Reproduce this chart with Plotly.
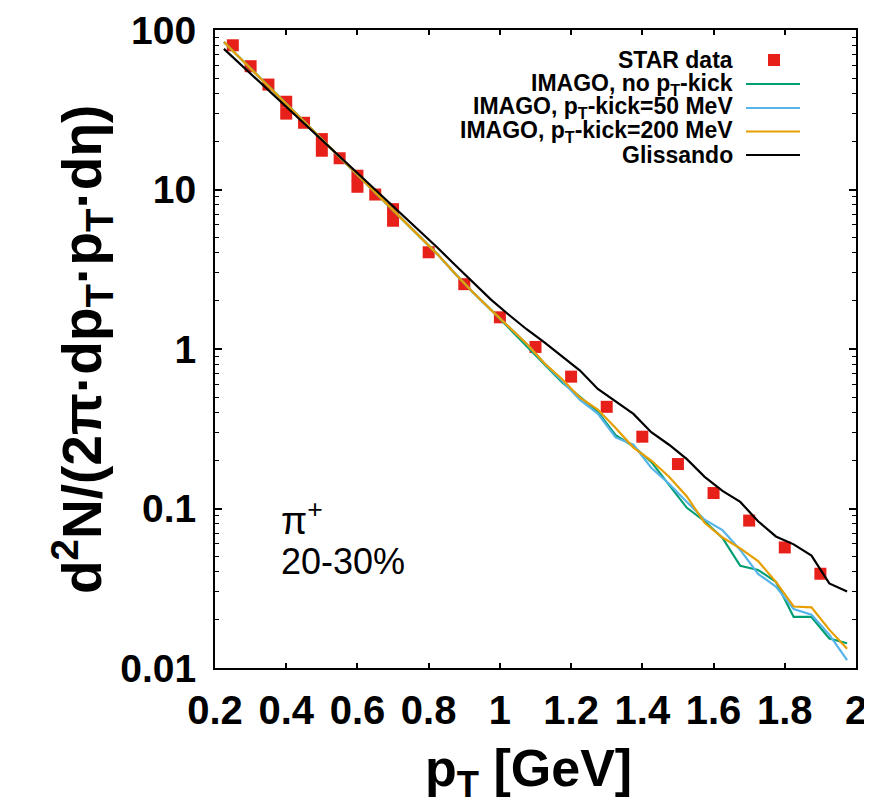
import plotly.graph_objects as go

# STAR data
star_pt = [0.25, 0.3, 0.35, 0.4, 0.4, 0.45, 0.5, 0.5, 0.55, 0.6, 0.6, 0.65, 0.7, 0.7,
           0.8, 0.9, 1.0, 1.1, 1.2, 1.3, 1.4, 1.5, 1.6, 1.7, 1.8, 1.9]
star_val = [80.2, 59.3, 45.5, 35.5, 29.9, 26.2, 20.7, 17.5, 15.7, 12.2, 10.4, 9.3, 7.53, 6.37,
            4.04, 2.55, 1.58, 1.03, 0.671, 0.434, 0.282, 0.190, 0.125, 0.084, 0.057, 0.039]

# model pT grid
model_pt = [0.225, 0.275, 0.325, 0.375, 0.425, 0.475, 0.525, 0.575, 0.625, 0.675,
            0.725, 0.775, 0.825, 0.875, 0.925, 0.975, 1.025, 1.075, 1.125, 1.175,
            1.225, 1.275, 1.325, 1.375, 1.425, 1.475, 1.525, 1.575, 1.625, 1.675,
            1.725, 1.775, 1.825, 1.875, 1.925, 1.975]

imago_nokick = [84.1, 65.2, 50.5, 39.1, 30.3, 23.4, 18.2, 14.1, 10.9, 8.43,
                6.53, 5.06, 3.92, 2.95, 2.26, 1.76, 1.35, 1.04, 0.794, 0.617,
                0.501, 0.403, 0.288, 0.245, 0.196, 0.141, 0.101, 0.0832, 0.0653, 0.0437,
                0.0412, 0.0347, 0.0209, 0.0209, 0.0153, 0.0143]

imago_kick50 = [84.1, 65.2, 50.5, 39.1, 30.3, 23.4, 18.2, 14.1, 10.9, 8.43,
                6.53, 5.06, 3.92, 2.95, 2.26, 1.76, 1.38, 1.08, 0.813, 0.631,
                0.479, 0.394, 0.279, 0.251, 0.180, 0.143, 0.110, 0.0851, 0.0733, 0.0550,
                0.0389, 0.0324, 0.0234, 0.0216, 0.0162, 0.0112]

imago_kick200 = [84.1, 65.2, 50.5, 39.1, 30.3, 23.4, 18.2, 14.1, 10.9, 8.43,
                 6.53, 5.06, 3.92, 2.95, 2.26, 1.76, 1.38, 1.08, 0.813, 0.646,
                 0.495, 0.417, 0.320, 0.241, 0.200, 0.158, 0.119, 0.0813, 0.0658, 0.0562,
                 0.0468, 0.0347, 0.0243, 0.0240, 0.0174, 0.0132]

glissando = [76.2, 60.0, 47.2, 37.2, 29.2, 23.0, 18.1, 14.3, 11.2, 8.83,
             6.95, 5.47, 4.31, 3.35, 2.63, 2.04, 1.64, 1.33, 1.10, 0.902,
             0.733, 0.562, 0.470, 0.392, 0.301, 0.251, 0.204, 0.158, 0.129, 0.110,
             0.0832, 0.0668, 0.0596, 0.0507, 0.0339, 0.0302]

x_tickvals = [0.2, 0.4, 0.6, 0.8, 1.0, 1.2, 1.4, 1.6, 1.8, 2.0]
x_ticktext = ["0.2", "0.4", "0.6", "0.8", "1", "1.2", "1.4", "1.6", "1.8", "2"]
y_tickvals = [0.01, 0.1, 1, 10, 100]
y_ticktext = ["0.01", "0.1", "1", "10", "100"]

legend_labels = ["STAR data", "IMAGO, no p<sub>T</sub>-kick", "IMAGO, p<sub>T</sub>-kick=50 MeV",
                 "IMAGO, p<sub>T</sub>-kick=200 MeV", "Glissando"]

RED = "#e8201a"
GREEN = "#009e73"
BLUE = "#56b4e9"
ORANGE = "#e69f00"
BLACK = "#000000"
FONT = "Liberation Sans, Arial, Helvetica, sans-serif"

fig = go.Figure()
fig.add_trace(go.Scatter(x=star_pt, y=star_val, mode="markers",
                         marker=dict(symbol="square", size=12, color=RED),
                         name=legend_labels[0]))
for vals, col, nm in [(imago_nokick, GREEN, legend_labels[1]),
                      (imago_kick50, BLUE, legend_labels[2]),
                      (imago_kick200, ORANGE, legend_labels[3]),
                      (glissando, BLACK, legend_labels[4])]:
    fig.add_trace(go.Scatter(x=model_pt, y=vals, mode="lines",
                             line=dict(color=col, width=2.2), name=nm))

# plot area pixel geometry
L, R, T, B = 207, 848, 22, 660
W, H = R - L, B - T


def px(xp):
    return (xp - L) / W


def py(yp):
    return (B - yp) / H


annotations = []
shapes = []
rows = [52, 76, 100, 123.5, 147]
cols = [RED, GREEN, BLUE, ORANGE, BLACK]
for i, (lab, yrow, col) in enumerate(zip(legend_labels, rows, cols)):
    annotations.append(dict(x=px(727), y=py(yrow), xref="paper", yref="paper",
                            text=lab, showarrow=False, xanchor="right", yanchor="middle",
                            font=dict(family=FONT, size=23, color="black", weight="bold")))
    if i == 0:
        shapes.append(dict(type="rect", xref="paper", yref="paper",
                           xsizemode="pixel", ysizemode="pixel",
                           xanchor=px(766), yanchor=py(yrow),
                           x0=-6, x1=6, y0=-6, y1=6,
                           fillcolor=RED, line=dict(width=0)))
    else:
        shapes.append(dict(type="line", xref="paper", yref="paper",
                           x0=px(738), x1=px(792), y0=py(yrow), y1=py(yrow),
                           line=dict(color=col, width=2.2)))

annotations.append(dict(x=px(271), y=py(510), xref="paper", yref="paper",
                        text="π<sup>+</sup>", showarrow=False, xanchor="left", yanchor="middle",
                        font=dict(family=FONT, size=38, color="black")))
annotations.append(dict(x=px(271), y=py(553), xref="paper", yref="paper",
                        text="20-30%", showarrow=False, xanchor="left", yanchor="middle",
                        font=dict(family=FONT, size=36, color="black")))
# axis titles
annotations.append(dict(x=px(74), y=py(342), xref="paper", yref="paper",
                        text="d<sup>2</sup>N/(2π·dp<sub>T</sub>·p<sub>T</sub>·dη)",
                        showarrow=False, xanchor="center", yanchor="middle", textangle=-90,
                        font=dict(family=FONT, size=55, color="black", weight="bold")))
annotations.append(dict(x=px(520), y=py(764), xref="paper", yref="paper",
                        text="p<sub>T</sub> [GeV]",
                        showarrow=False, xanchor="center", yanchor="middle",
                        font=dict(family=FONT, size=52, color="black", weight="bold")))

fig.update_layout(
    width=872, height=808,
    margin=dict(l=L, r=872 - R, t=T, b=808 - B, autoexpand=False),
    paper_bgcolor="white", plot_bgcolor="white",
    showlegend=False,
    annotations=annotations, shapes=shapes,
    xaxis=dict(range=[0.2, 2.0], tickvals=x_tickvals, ticktext=x_ticktext,
               automargin=False,
               ticks="inside", ticklen=5, tickwidth=1.5, tickcolor="black",
               showline=True, linecolor="black", linewidth=2, mirror="allticks",
               showgrid=False, zeroline=False, ticklabelstandoff=6,
               tickfont=dict(family=FONT, size=40, color="black", weight="bold")),
    yaxis=dict(type="log", range=[-2, 2], tickvals=y_tickvals, ticktext=y_ticktext,
               automargin=False,
               ticks="inside", ticklen=7, tickwidth=1.5, tickcolor="black",
               minor=dict(ticks="inside", ticklen=4, tickwidth=1.2, tickcolor="black",
                          dtick="D1", showgrid=False),
               showline=True, linecolor="black", linewidth=2, mirror="allticks",
               showgrid=False, zeroline=False, ticklabelstandoff=9,
               tickfont=dict(family=FONT, size=39, color="black", weight="bold")),
)

fig.write_html("out.html")
